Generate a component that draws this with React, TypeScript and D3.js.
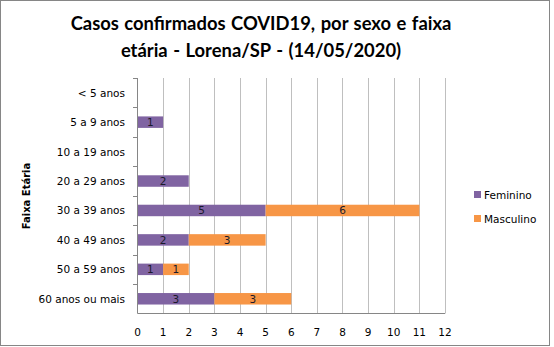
import React from "react";
import * as d3 from "d3";

const categories = [
  "< 5 anos",
  "5 a 9 anos",
  "10 a 19 anos",
  "20 a 29 anos",
  "30 a 39 anos",
  "40 a 49 anos",
  "50 a 59 anos",
  "60 anos ou mais",
];
const feminino = [0, 1, 0, 2, 5, 2, 1, 3];
const masculino = [0, 0, 0, 0, 6, 3, 1, 3];
const seriesNames = ["Feminino", "Masculino"];
const seriesColors = ["#8064A2", "#F79646"];
const xTicks = [0, 1, 2, 3, 4, 5, 6, 7, 8, 9, 10, 11, 12];
const titleLines = ["Casos confirmados COVID19, por sexo e faixa", "etária - Lorena/SP - (14/05/2020)"];
const yTitle = "Faixa Etária";

export default function App() {
  const W = 554;
  const H = 347;
  const left = 137.5;
  const right = 445;
  const top = 78;
  const bottom = 313.5;
  const x = d3.scaleLinear().domain([0, 12]).range([left, right]);
  const y = d3.scaleBand().domain(categories).range([top, bottom]).paddingInner(0.61).paddingOuter(0.305);
  const yb = d3.scaleBand().domain(categories).range([top, bottom]);
  const rows = categories.map((c, i) => ({ c, vals: [feminino[i], masculino[i]] }));
  const stack = d3.stack<any>().keys(["0", "1"]).value((d: any, k: string) => d.vals[+k]);
  const stacked = stack(rows as any);
  const font = "DejaVu Sans, Verdana, sans-serif";
  return (
    <svg width={W} height={H} style={{ position: "absolute", left: 0, top: 0 }}>
      <rect x={0} y={0} width={W} height={H} fill="#fff" />
      <rect x={0.5} y={0.5} width={549} height={345} fill="#fff" stroke="#868686" />
      {titleLines.map((t, i) => (
        <text key={i} x={261} y={30 + i * 27} textAnchor="middle" fontFamily="Lato, sans-serif" fontWeight="bold" fontSize={18.4} wordSpacing={1} fill="#000">
          {t}
        </text>
      ))}
      {xTicks.slice(1).map((t) => (
        <line key={t} x1={Math.round(x(t)) + 0.5} x2={Math.round(x(t)) + 0.5} y1={top} y2={bottom} stroke="#BFBFBF" />
      ))}
      {stacked.map((s, si) =>
        s.map((d, i) => {
          const v = rows[i].vals[si];
          if (!v) return null;
          const x0 = x(d[0]);
          const x1 = x(d[1]);
          const yy = y(categories[i])!;
          return (
            <g key={si + "-" + i}>
              <rect x={x0} y={yy} width={x1 - x0} height={y.bandwidth()} fill={seriesColors[si]} />
              <text x={(x0 + x1) / 2} y={yy + y.bandwidth() / 2 + 4} textAnchor="middle" fontFamily={font} fontSize={10.5} fill="#1a1a2a">
                {v}
              </text>
            </g>
          );
        })
      )}
      <line x1={left} x2={left} y1={top} y2={bottom} stroke="#868686" />
      <line x1={left} x2={right} y1={bottom} y2={bottom} stroke="#868686" />
      {categories.map((c, i) => (
        <line key={"t" + i} x1={133} x2={left} y1={Math.round(yb(c)!) + 0.5} y2={Math.round(yb(c)!) + 0.5} stroke="#868686" />
      ))}
      {categories.map((c) => (
        <text key={c} x={125} y={yb(c)! + yb.bandwidth() / 2 + 4} textAnchor="end" fontFamily={font} fontSize={10.5} fill="#000">
          {c}
        </text>
      ))}
      {xTicks.map((t) => (
        <text key={t} x={x(t)} y={335.5} textAnchor="middle" fontFamily={font} fontSize={10.5} fill="#000">
          {t}
        </text>
      ))}
      <text transform={`translate(30,196) rotate(-90)`} textAnchor="middle" fontFamily={font} fontWeight="bold" fontSize={10} fill="#000">
        {yTitle}
      </text>
      {seriesNames.map((n, i) => (
        <g key={n}>
          <rect x={474} y={191 + i * 24} width={7} height={7} fill={seriesColors[i]} />
          <text x={484} y={198.5 + i * 24} fontFamily={font} fontSize={10.5} fill="#000">
            {n}
          </text>
        </g>
      ))}
    </svg>
  );
}
